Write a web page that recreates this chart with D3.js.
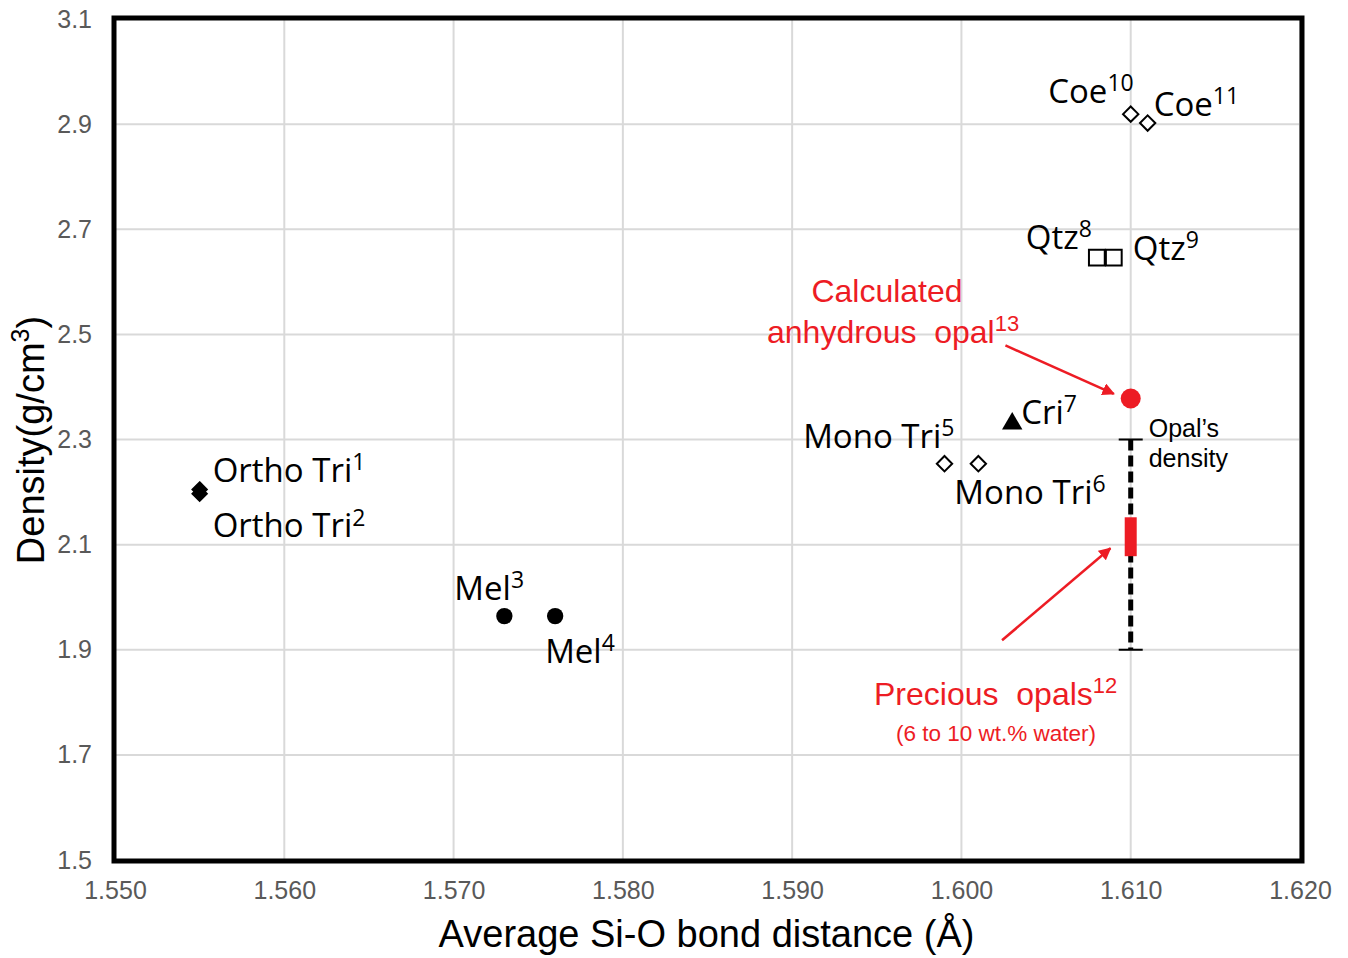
<!DOCTYPE html>
<html>
<head>
<meta charset="utf-8">
<script src="https://cdn.jsdelivr.net/npm/d3@7"></script>
<style>
  html, body { margin: 0; padding: 0; background: #fff; }
  svg { display: block; }
</style>
</head>
<body>
<svg id="chart" width="1348" height="958"></svg>
<script>
// ---------------- DATA ----------------
const materials = ["Ortho Tri", "Ortho Tri", "Mel", "Mel", "Mono Tri", "Mono Tri", "Cri", "Qtz", "Qtz", "Coe", "Coe"];
const refNumbers = ["1", "2", "3", "4", "5", "6", "7", "8", "9", "10", "11"];
const bondDistance = [1.555, 1.555, 1.573, 1.576, 1.599, 1.601, 1.603, 1.608, 1.609, 1.610, 1.611];
const density = [2.197, 2.205, 1.964, 1.964, 2.254, 2.254, 2.330, 2.646, 2.646, 2.919, 2.902];

const anhydrousOpal = { x: 1.610, y: 2.378, label: ["Calculated", "anhydrous  opal"], ref: "13" };
const opalRange = { x: 1.610, low: 1.90, high: 2.30, label: ["Opal\u2019s", "density"] };
const preciousOpals = { x: 1.610, low: 2.078, high: 2.152, label: "Precious  opals", ref: "12", note: "(6 to 10 wt.% water)" };

const xTicks = [1.550, 1.560, 1.570, 1.580, 1.590, 1.600, 1.610, 1.620];
const yTicks = [1.5, 1.7, 1.9, 2.1, 2.3, 2.5, 2.7, 2.9, 3.1];
const xTitle = "Average Si-O bond distance (\u00C5)";
const yTitle = "Density(g/cm";

// ---------------- LAYOUT ----------------
const svg = d3.select("#chart");
const L = 115, R = 1300, T = 19, B = 860;
const x = d3.scaleLinear().domain([1.550, 1.620]).range([L, R]);
const y = d3.scaleLinear().domain([1.5, 3.1]).range([B, T]);
const RED = "#ed1c24";
const labelFont = "'Open Sans', 'Noto Sans', sans-serif";
const arialFont = "'Liberation Sans', Arial, sans-serif";

// gridlines
svg.append("g").selectAll("line").data(xTicks).join("line")
  .attr("x1", d => x(d)).attr("x2", d => x(d)).attr("y1", T).attr("y2", B)
  .attr("stroke", "#d9d9d9").attr("stroke-width", 2);
svg.append("g").selectAll("line").data(yTicks).join("line")
  .attr("x1", L).attr("x2", R).attr("y1", d => y(d)).attr("y2", d => y(d))
  .attr("stroke", "#d9d9d9").attr("stroke-width", 2);

// axes (tick labels only)
const xAxis = d3.axisBottom(x).tickValues(xTicks).tickFormat(d3.format(".3f")).tickSize(0).tickPadding(21);
const gx = svg.append("g").attr("transform", `translate(0,${B})`).call(xAxis);
gx.select(".domain").remove();
gx.selectAll("text").attr("font-family", arialFont).attr("font-size", 25).attr("fill", "#595959");

const yAxis = d3.axisLeft(y).tickValues(yTicks).tickFormat(d3.format(".1f")).tickSize(0).tickPadding(23);
const gy = svg.append("g").attr("transform", `translate(${L},0)`).call(yAxis);
gy.select(".domain").remove();
gy.selectAll("text").attr("font-family", arialFont).attr("font-size", 25).attr("fill", "#595959");

// frame
svg.append("rect").attr("x", L - 1).attr("y", T - 1).attr("width", R - L + 3).attr("height", B - T + 2)
  .attr("fill", "none").attr("stroke", "#000").attr("stroke-width", 5);

// axis titles
svg.append("text").attr("x", (L + R) / 2 - 1).attr("y", 947).attr("text-anchor", "middle")
  .attr("font-family", arialFont).attr("font-size", 38).attr("fill", "#000").text(xTitle);
const yt = svg.append("text").attr("transform", `translate(44,440) rotate(-90)`)
  .attr("text-anchor", "middle").attr("font-family", arialFont).attr("font-size", 38).attr("fill", "#000");
yt.append("tspan").text(yTitle);
yt.append("tspan").attr("font-size", 25).attr("dy", -15).text("3");
yt.append("tspan").attr("dy", 15).text(")");

// ---------------- OPAL ERROR BAR ----------------
svg.append("line").attr("x1", x(opalRange.x)).attr("x2", x(opalRange.x))
  .attr("y1", y(opalRange.high)).attr("y2", y(opalRange.low))
  .attr("stroke", "#000").attr("stroke-width", 5).attr("stroke-dasharray", "11,5");
[opalRange.high, opalRange.low].forEach(v => {
  svg.append("line").attr("x1", x(opalRange.x) - 12).attr("x2", x(opalRange.x) + 12)
    .attr("y1", y(v)).attr("y2", y(v)).attr("stroke", "#000").attr("stroke-width", 2);
});
svg.append("rect").attr("x", x(preciousOpals.x) - 6).attr("width", 12)
  .attr("y", y(preciousOpals.high)).attr("height", y(preciousOpals.low) - y(preciousOpals.high))
  .attr("fill", RED);

// anhydrous opal point
svg.append("circle").attr("cx", x(anhydrousOpal.x)).attr("cy", y(anhydrousOpal.y)).attr("r", 10).attr("fill", RED);

// ---------------- MARKERS ----------------
const symbolFor = {
  "Ortho Tri": { type: d3.symbolDiamond2, size: 130, fill: "#000", stroke: "#000" },
  "Mel": { type: d3.symbolCircle, size: 210, fill: "#000", stroke: "none" },
  "Mono Tri": { type: d3.symbolDiamond2, size: 150, fill: "#fff", stroke: "#000" },
  "Cri": { type: d3.symbolTriangle, size: 180, fill: "#000", stroke: "none" },
  "Qtz": { type: d3.symbolSquare, size: 250, fill: "#fff", stroke: "#000" },
  "Coe": { type: d3.symbolDiamond2, size: 150, fill: "#fff", stroke: "#000" }
};
const pts = materials.map((m, i) => ({ m, ref: refNumbers[i], x: bondDistance[i], y: density[i] }));
svg.append("g").selectAll("path").data(pts).join("path")
  .attr("transform", d => `translate(${x(d.x)},${y(d.y)})`)
  .attr("d", d => d3.symbol().type(symbolFor[d.m].type).size(symbolFor[d.m].size)())
  .attr("fill", d => symbolFor[d.m].fill)
  .attr("stroke", d => symbolFor[d.m].stroke)
  .attr("stroke-width", 2);

// ---------------- LABELS ----------------
// pixel offsets of each label relative to its point
const labelOffsets = [
  { dx: 13, dy: -12, anchor: "start" },
  { dx: 13, dy: 48, anchor: "start" },
  { dx: -50, dy: -16, anchor: "start" },
  { dx: -10, dy: 47, anchor: "start" },
  { dx: 10, dy: -16, anchor: "end" },
  { dx: -24, dy: 40, anchor: "start" },
  { dx: 9, dy: 0, anchor: "start" },
  { dx: -5, dy: -9, anchor: "end" },
  { dx: 19, dy: 2, anchor: "start" },
  { dx: 3, dy: -11, anchor: "end" },
  { dx: 6, dy: -7, anchor: "start" }
];
function supLabel(sel, main, sup, size, supSize) {
  sel.append("tspan").text(main);
  sel.append("tspan").attr("font-size", supSize).attr("dy", -size * 0.36).text(sup);
}
pts.forEach((d, i) => {
  const o = labelOffsets[i];
  const t = svg.append("text").attr("x", x(d.x) + o.dx).attr("y", y(d.y) + o.dy)
    .attr("text-anchor", o.anchor).attr("font-family", labelFont).attr("font-size", 33).attr("fill", "#000");
  supLabel(t, d.m, d.ref, 33, 23);
});

// opal's density label
opalRange.label.forEach((s, i) => {
  svg.append("text").attr("x", x(opalRange.x) + 18).attr("y", y(opalRange.high) - 3 + i * 30)
    .attr("font-family", arialFont).attr("font-size", 25).attr("fill", "#000").text(s);
});

// red annotations
svg.append("text").attr("x", 887).attr("y", 302).attr("text-anchor", "middle")
  .attr("font-family", arialFont).attr("font-size", 32).attr("fill", RED).style("white-space", "pre")
  .text(anhydrousOpal.label[0]);
const an = svg.append("text").attr("x", 767).attr("y", 343)
  .attr("font-family", arialFont).attr("font-size", 32).attr("fill", RED).style("white-space", "pre");
supLabel(an, anhydrousOpal.label[1], anhydrousOpal.ref, 32, 22);

const po = svg.append("text").attr("x", 874).attr("y", 705)
  .attr("font-family", arialFont).attr("font-size", 32).attr("fill", RED).style("white-space", "pre");
supLabel(po, preciousOpals.label, preciousOpals.ref, 32, 22);
svg.append("text").attr("x", 896).attr("y", 741)
  .attr("font-family", arialFont).attr("font-size", 22.5).attr("fill", RED).text(preciousOpals.note);

// arrows (in data coordinates)
const defs = svg.append("defs");
defs.append("marker").attr("id", "arrowRed").attr("viewBox", "0 0 10 10")
  .attr("refX", 9).attr("refY", 5).attr("markerWidth", 5).attr("markerHeight", 5)
  .attr("markerUnits", "strokeWidth").attr("orient", "auto")
  .append("path").attr("d", "M0,0 L10,5 L0,10 z").attr("fill", RED);
const arrows = [
  { x1: 1.6026, y1: 2.479, x2: 1.6090, y2: 2.387 },
  { x1: 1.6024, y1: 1.918, x2: 1.6088, y2: 2.093 }
];
svg.append("g").selectAll("line").data(arrows).join("line")
  .attr("x1", d => x(d.x1)).attr("y1", d => y(d.y1))
  .attr("x2", d => x(d.x2)).attr("y2", d => y(d.y2))
  .attr("stroke", RED).attr("stroke-width", 2.5).attr("marker-end", "url(#arrowRed)");
</script>
</body>
</html>
